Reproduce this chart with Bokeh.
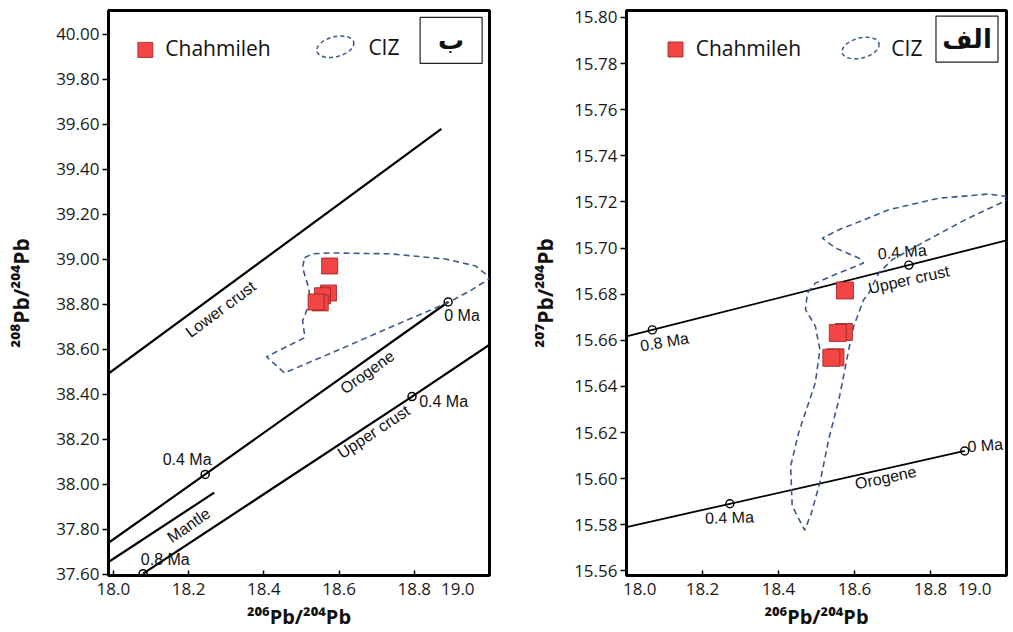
from bokeh.plotting import figure
from bokeh.layouts import row
from bokeh.models import FixedTicker, NumeralTickFormatter, Range1d
from bokeh.core.properties import value
from bokeh.embed import file_html
from bokeh.resources import INLINE

# ---------------- data ----------------
# Chahmileh samples
pb206 = [18.575, 18.572, 18.556, 18.550, 18.539]
pb207 = [15.6816, 15.6636, 15.6632, 15.6526, 15.6524]
pb208 = [38.970, 38.850, 38.838, 38.806, 38.810]

# CIZ field, 208Pb/204Pb vs 206Pb/204Pb
ciz208_x = [18.508, 18.530, 18.577, 18.737, 18.883, 18.963, 19.003, 18.949, 18.888,
            18.763, 18.604, 18.455, 18.407, 18.508, 18.508, 18.503, 18.524, 18.519, 18.503]
ciz208_y = [39.007, 39.024, 39.028, 39.024, 39.001, 38.970, 38.917, 38.860, 38.806,
            38.717, 38.601, 38.495, 38.567, 38.651, 38.668, 38.726, 38.815, 38.873, 38.962]

# CIZ field, 207Pb/204Pb vs 206Pb/204Pb
ciz207_x = [19.002, 18.953, 18.822, 18.690, 18.559, 18.515, 18.550, 18.611, 18.624,
            18.559, 18.497, 18.476, 18.471, 18.497, 18.509, 18.497, 18.453, 18.432,
            18.436, 18.469, 18.487, 18.511, 18.532, 18.559, 18.585, 18.598, 18.624,
            18.638, 18.664, 18.699, 18.778, 18.892, 19.002]
ciz207_y = [15.7223, 15.7234, 15.7216, 15.7166, 15.7079, 15.7043, 15.7000, 15.6957, 15.6935,
            15.6892, 15.6848, 15.6805, 15.6733, 15.6661, 15.6560, 15.6416, 15.6199, 15.6055,
            15.5881, 15.5776, 15.5853, 15.5997, 15.6170, 15.6343, 15.6560, 15.6661, 15.6776,
            15.6805, 15.6892, 15.6949, 15.7022, 15.7123, 15.7209]

# Evolution curves, 208 diagram
lower_crust208_x = [17.987, 18.872]
lower_crust208_y = [38.492, 39.579]
orogene208_x = [17.987, 18.244, 18.890]
orogene208_y = [37.740, 38.044, 38.810]
mantle208_x = [17.987, 18.268]
mantle208_y = [37.655, 37.963]
upper_crust208_x = [18.079, 18.794, 19.000]
upper_crust208_y = [37.603, 38.390, 38.620]
ages208_x = [18.244, 18.890, 18.794, 18.079]
ages208_y = [38.044, 38.810, 38.390, 37.603]

# Evolution curves, 207 diagram
upper_crust207_x = [18.0, 19.0]
upper_crust207_y = [15.6617, 15.7033]
orogene207_x = [18.0, 18.272, 18.890]
orogene207_y = [15.5790, 15.5891, 15.6120]
ages207_x = [18.068, 18.743, 18.272, 18.890]
ages207_y = [15.6645, 15.6926, 15.5891, 15.6120]

x_ticks = [18.0, 18.2, 18.4, 18.6, 18.8, 19.0]
y208_ticks = [37.6, 37.8, 38.0, 38.2, 38.4, 38.6, 38.8, 39.0, 39.2, 39.4, 39.6, 39.8, 40.0]
y207_ticks = [15.56, 15.58, 15.60, 15.62, 15.64, 15.66, 15.68, 15.70, 15.72, 15.74,
              15.76, 15.78, 15.80]

x_title = "²⁰⁶Pb/²⁰⁴Pb"
y208_title = "²⁰⁸Pb/²⁰⁴Pb"
y207_title = "²⁰⁷Pb/²⁰⁴Pb"

RED = "#f24646"
RED_LINE = "#9e1e1e"
BLUE = "#3d5a8a"
TICK_FONT = "Open Sans"
LBL_FONT = "Liberation Sans"
NB = "\u00a0"


def base_fig(xr, yr, yticks, ytitle, width, bl, br, ystand):
    p = figure(width=width, height=632, x_range=Range1d(*xr), y_range=Range1d(*yr),
               output_backend="svg", toolbar_location=None,
               min_border_left=bl, min_border_right=br, min_border_top=10,
               min_border_bottom=54)
    p.background_fill_color = "white"
    p.border_fill_color = "white"
    p.outline_line_color = "black"
    p.outline_line_width = 3
    p.xgrid.visible = False
    p.ygrid.visible = False
    p.xaxis.ticker = FixedTicker(ticks=x_ticks)
    p.yaxis.ticker = FixedTicker(ticks=yticks)
    p.xaxis.formatter = NumeralTickFormatter(format="0.0")
    p.yaxis.formatter = NumeralTickFormatter(format="0.00")
    for ax in (p.xaxis, p.yaxis):
        ax.axis_line_width = 3
        ax.axis_line_color = "black"
        ax.major_tick_line_width = 1.5
        ax.minor_tick_line_color = None
        ax.major_label_text_font = TICK_FONT
        ax.major_label_text_font_size = "17px"
        ax.major_label_text_color = "#1a1a1a"
        ax.axis_label_text_font = TICK_FONT
        ax.axis_label_text_font_style = "bold"
        ax.axis_label_text_font_size = "21px"
        ax.axis_label_text_color = "#111111"
    p.xaxis.axis_label_text_font_size = "20px"
    p.xaxis.major_tick_in = 5
    p.xaxis.major_tick_out = 0
    p.yaxis.major_tick_in = 0
    p.yaxis.major_tick_out = 6
    p.xaxis.major_label_standoff = 1
    p.yaxis.major_label_standoff = 3
    p.xaxis.axis_label = x_title
    p.yaxis.axis_label = ytitle
    p.xaxis.axis_label_standoff = 0
    p.yaxis.axis_label_standoff = ystand
    return p


def legend(p, sq, txt, ell, ciz_txt, box, letter):
    p.scatter([sq[0]], [sq[1]], marker="square", size=15, fill_color=RED,
              line_color=RED_LINE, line_width=0.8)
    p.text([txt[0]], [txt[1]], text=["Chahmileh"], text_font=value("Open Sans"),
           text_font_size="21px", text_align="left", text_baseline="middle",
           text_color="#111111")
    p.ellipse([ell[0]], [ell[1]], width=38, height=20, width_units="screen",
              height_units="screen", angle=0.25, fill_alpha=0, line_color=BLUE,
              line_width=1.5, line_dash="4 3")
    p.text([ciz_txt[0]], [ciz_txt[1]], text=["CIZ"], text_font=value("Open Sans"),
           text_font_size="21px", text_align="left", text_baseline="middle",
           text_color="#111111")
    p.rect([box[0]], [box[1]], width=62, height=46, width_units="screen",
           height_units="screen", fill_color="white", line_color="#222222", line_width=1.2)
    p.text([box[0]], [box[1]], text=[letter], text_font=value("DejaVu Sans"),
           text_font_style="bold", text_font_size="26px", text_align="center",
           text_baseline="middle", text_color="#111111")


def lbl(p, x, y, t, ang, size="16px"):
    p.text([x], [y], text=[t], angle=ang, text_font=value(LBL_FONT),
           text_font_size=size, text_align="center", text_baseline="middle",
           text_color="#111111")


# ---------------- left panel (208) ----------------
p1 = base_fig((17.987, 19.0), (37.595, 40.105), y208_ticks, y208_title, 505, 108, 16, 18)
p1.xaxis.major_label_overrides = {19.0: "19.0" + NB * 7}

lw = 2.2
p1.line(lower_crust208_x, lower_crust208_y, line_color="black", line_width=lw)
p1.line(orogene208_x, orogene208_y, line_color="black", line_width=lw)
p1.line(mantle208_x, mantle208_y, line_color="black", line_width=lw)
p1.line(upper_crust208_x, upper_crust208_y, line_color="black", line_width=lw)
p1.scatter(ages208_x, ages208_y, marker="circle", size=8, fill_alpha=0,
           line_color="black", line_width=1.5)
p1.patch(ciz208_x, ciz208_y, fill_alpha=0, line_color=BLUE, line_width=1.6,
         line_dash="6 4")
p1.scatter(pb206, pb208, marker="square", size=16, fill_color=RED,
           line_color=RED_LINE, line_width=0.8)

lbl(p1, 18.285, 38.778, "Lower crust", 0.640)
lbl(p1, 18.675, 38.498, "Orogene", 0.621)
lbl(p1, 18.200, 37.818, "Mantle", 0.604)
lbl(p1, 18.692, 38.233, "Upper crust", 0.585)
lbl(p1, 18.927, 38.748, "0 Ma", 0)
lbl(p1, 18.878, 38.370, "0.4 Ma", 0)
lbl(p1, 18.196, 38.111, "0.4 Ma", 0)
lbl(p1, 18.138, 37.667, "0.8 Ma", 0)

legend(p1, (18.085, 39.930), (18.138, 39.939), (18.590, 39.944), (18.678, 39.944),
       (18.898, 39.972), "ب")

# ---------------- right panel (207) ----------------
p2 = base_fig((18.0, 19.0), (15.558, 15.803), y207_ticks, y207_title, 508, 121, 7, 12)
p2.xaxis.major_label_overrides = {18.0: NB * 6 + "18.0", 19.0: "19.0" + NB * 5}

lw2 = 1.8
p2.line(upper_crust207_x, upper_crust207_y, line_color="black", line_width=lw2)
p2.line(orogene207_x, orogene207_y, line_color="black", line_width=lw2)
p2.scatter(ages207_x, ages207_y, marker="circle", size=8, fill_alpha=0,
           line_color="black", line_width=1.4)
p2.patch(ciz207_x, ciz207_y, fill_alpha=0, line_color=BLUE, line_width=1.6,
         line_dash="6 4")
p2.scatter(pb206, pb207, marker="square", size=17, fill_color=RED,
           line_color=RED_LINE, line_width=0.8)

lbl(p2, 18.743, 15.6863, "Upper crust", 0.22)
lbl(p2, 18.682, 15.6004, "Orogene", 0.21)
lbl(p2, 18.7255, 15.6983, "0.4 Ma", 0.08)
lbl(p2, 18.100, 15.6593, "0.8 Ma", 0.17)
lbl(p2, 18.944, 15.6144, "0 Ma", 0.08)
lbl(p2, 18.271, 15.5831, "0.4 Ma", 0.03)

legend(p2, (18.129, 15.7861), (18.182, 15.7867), (18.616, 15.7867), (18.697, 15.7867),
       (18.896, 15.7906), "الف")

layout = row(p1, p2)
open("out.html", "w").write(file_html(layout, INLINE))
